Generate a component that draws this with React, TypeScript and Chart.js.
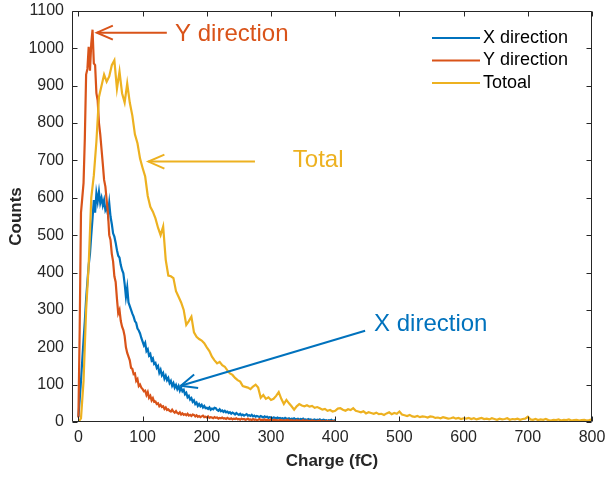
import React, { useEffect, useRef } from "react";
import { Chart, registerables } from "chart.js";

Chart.register(...registerables);

const FONT = '"Liberation Sans", Arial, Helvetica, sans-serif';

// bin width (fC) of each series
const STEP_XY = 2;
const STEP_TOTAL = 4;

// X direction counts, charge 0..400 fC, every 2 fC
const xDirection = [
  14, 60, 110, 165, 220, 270, 330, 375, 420, 450,
  500, 545, 594, 560, 612, 590, 616, 586, 600, 580,
  594, 567, 575, 555, 586, 550, 530, 505, 496, 480,
  460, 445, 440, 420, 407, 398, 370, 335, 360, 320,
  310, 300, 290, 282, 270, 265, 250, 245, 237, 225,
  215, 205, 212, 190, 195, 178, 182, 165, 170, 155,
  158, 145, 150, 132, 140, 125, 131, 116, 124, 112,
  118, 104, 110, 97, 104, 92, 99, 88, 96, 84,
  92, 82, 86, 74, 78, 66, 70, 60, 64, 54,
  58, 48, 52, 43, 48, 42, 46, 39, 43, 37,
  38, 35, 39, 33, 36, 34, 38, 37, 32, 30,
  34, 29, 31, 27, 30, 26, 28, 24, 26, 22,
  25, 23, 20, 24, 21, 19, 22, 18, 20, 17,
  19, 21, 17, 18, 16, 19, 15, 17, 14, 16,
  15, 13, 16, 14, 12, 15, 13, 14, 11, 13,
  12, 10, 12, 11, 9, 12, 10, 11, 9, 10,
  8, 11, 9, 8, 10, 7, 9, 8, 10, 7,
  8, 9, 6, 8, 7, 9, 6, 7, 5, 8,
  6, 7, 5, 6, 7, 4, 6, 5, 7, 4,
  5, 6, 4, 5, 3, 5, 4, 6, 3, 4,
  5,
];

// Y direction counts, charge 0..400 fC, every 2 fC
const yDirection = [
  12, 250, 560, 600, 640, 760, 930, 945, 1004, 940,
  1013, 1050, 960, 955, 880, 860, 800, 770, 730, 690,
  648, 630, 594, 560, 500, 487, 450, 430, 390, 375,
  330, 291, 300, 270, 255, 246, 230, 200, 185, 175,
  165, 145, 142, 128, 130, 110, 115, 96, 100, 92,
  88, 82, 84, 72, 80, 65, 70, 58, 64, 54,
  55, 48, 50, 42, 46, 40, 42, 35, 39, 32,
  34, 30, 28, 33, 28, 25, 29, 24, 22, 26,
  20, 23, 19, 21, 18, 22, 17, 19, 16, 20,
  19, 15, 18, 14, 16, 13, 15, 17, 13, 14,
  12, 15, 11, 13, 12, 10, 13, 11, 12, 9,
  11, 10, 12, 9, 10, 8, 11, 9, 8, 10,
  7, 9, 8, 10, 7, 8, 6, 9, 7, 8,
  6, 7, 9, 6, 7, 5, 8, 6, 7, 5,
  6, 8, 5, 6, 4, 7, 5, 6, 4, 5,
  7, 4, 5, 6, 4, 5, 3, 6, 4, 5,
  3, 5, 4, 6, 3, 4, 5, 3, 4, 2,
  5, 3, 4, 2, 3, 5, 2, 3, 4, 2,
  3, 2, 4, 2, 3, 1, 3, 2, 4, 1,
  2, 3, 1, 2, 3, 1, 2, 1, 2, 1,
  2,
];

// Total counts, charge 0..800 fC, every 4 fC
const total = [
  0, 10, 110, 300, 420, 600, 660, 750, 870, 900,
  930, 911, 925, 955, 968, 892, 938, 880, 855, 906,
  855, 820, 770, 746, 705, 680, 657, 605, 576, 563,
  545, 520, 500, 523, 434, 392, 390, 385, 350, 335,
  320, 300, 260, 270, 282, 240, 228, 222, 218, 211,
  200, 190, 175, 165, 157, 161, 152, 148, 138, 130,
  126, 118, 112, 108, 96, 94, 92, 88, 95, 100,
  92, 65, 72, 62, 66, 59, 62, 70, 80, 62,
  48, 59, 50, 42, 33, 42, 48, 44, 42, 45,
  41, 43, 38, 40, 37, 33, 35, 30, 32, 28,
  30, 36, 37, 33, 30, 34, 32, 37, 30, 28,
  26, 29, 23, 26, 24, 22, 25, 21, 22, 19,
  23, 26, 21, 24, 22, 28, 20, 18, 16, 19,
  15, 14, 16, 13, 15, 14, 12, 15, 14, 11,
  12, 10, 13, 11, 9, 10, 12, 9, 11, 8,
  10, 9, 11, 8, 10, 7, 9, 11, 8, 9,
  7, 10, 8, 6, 9, 7, 8, 10, 6, 8,
  7, 9, 6, 8, 9, 14, 7, 6, 8, 5,
  7, 6, 8, 5, 4, 6, 5, 7, 4, 6,
  5, 7, 4, 5, 6, 4, 5, 6, 4, 5,
  7,
];

const xTicks = [0, 100, 200, 300, 400, 500, 600, 700, 800];
const yTicks = [0, 100, 200, 300, 400, 500, 600, 700, 800, 900, 1000, 1100];

const seriesNames = ["X direction", "Y direction", "Totoal"];
const seriesColors = ["#0072BD", "#D95319", "#EDB120"];

// arrow annotations, in data coordinates
const noteLabels = ["Y direction", "Total", "X direction"];
const noteColors = ["#D95319", "#EDB120", "#0072BD"];
const noteTails = [[137.7, 1042], [275, 697], [446.6, 244]];
const noteTips = [[28.7, 1042], [109, 697], [159.5, 97]];
const noteTextAt = [[150.6, 1038], [334, 701], [460.5, 262]];

const AXIS_COLOR = "#262626";

const framePlugin = {
  id: "matlabFrame",
  afterDatasetsDraw(chart: any) {
    const { ctx, chartArea: a, scales } = chart;
    const sx = scales.x;
    const sy = scales.y;
    ctx.save();

    // annotations
    noteLabels.forEach((label, i) => {
      const tx = sx.getPixelForValue(noteTips[i][0]);
      const ty = sy.getPixelForValue(noteTips[i][1]);
      const fx = sx.getPixelForValue(noteTails[i][0]);
      const fy = sy.getPixelForValue(noteTails[i][1]);
      ctx.strokeStyle = noteColors[i];
      ctx.lineWidth = 2;
      ctx.lineCap = "butt";
      ctx.beginPath();
      ctx.moveTo(fx, fy);
      ctx.lineTo(tx, ty);
      ctx.stroke();
      const ang = Math.atan2(ty - fy, tx - fx);
      const L = 16;
      const W = 7;
      const bx = tx - L * Math.cos(ang);
      const by = ty - L * Math.sin(ang);
      const nx = -Math.sin(ang);
      const ny = Math.cos(ang);
      ctx.beginPath();
      ctx.moveTo(bx + W * nx, by + W * ny);
      ctx.lineTo(tx, ty);
      ctx.lineTo(bx - W * nx, by - W * ny);
      ctx.stroke();
      ctx.fillStyle = noteColors[i];
      ctx.font = `24px ${FONT}`;
      ctx.textAlign = "left";
      ctx.textBaseline = "middle";
      ctx.fillText(label, sx.getPixelForValue(noteTextAt[i][0]), sy.getPixelForValue(noteTextAt[i][1]));
    });

    // box
    ctx.strokeStyle = AXIS_COLOR;
    ctx.lineWidth = 1;
    const L0 = Math.round(a.left) + 0.5;
    const R0 = Math.round(a.right) - 0.5;
    const T0 = Math.round(a.top) + 0.5;
    const B0 = Math.round(a.bottom) - 0.5;
    ctx.beginPath();
    ctx.rect(L0, T0, R0 - L0, B0 - T0);
    ctx.stroke();

    // inward ticks on all four sides
    const tl = 5;
    ctx.beginPath();
    xTicks.forEach((v) => {
      const px = Math.round(sx.getPixelForValue(v)) + 0.5;
      ctx.moveTo(px, B0);
      ctx.lineTo(px, B0 - tl);
      ctx.moveTo(px, T0);
      ctx.lineTo(px, T0 + tl);
    });
    yTicks.forEach((v) => {
      const py = Math.round(sy.getPixelForValue(v)) + 0.5;
      ctx.moveTo(L0, py);
      ctx.lineTo(L0 + tl, py);
      ctx.moveTo(R0, py);
      ctx.lineTo(R0 - tl, py);
    });
    ctx.stroke();

    // legend (top right, inside the axes)
    ctx.font = `18px ${FONT}`;
    ctx.textAlign = "left";
    ctx.textBaseline = "middle";
    seriesNames.forEach((name, i) => {
      const yy = a.top + 27 + i * 22.5;
      ctx.strokeStyle = seriesColors[i];
      ctx.lineWidth = 2;
      ctx.beginPath();
      ctx.moveTo(a.right - 160, yy);
      ctx.lineTo(a.right - 112, yy);
      ctx.stroke();
      ctx.fillStyle = "#000000";
      ctx.fillText(name, a.right - 109, yy);
    });

    ctx.restore();
  },
};

export default function App() {
  const canvasRef = useRef<HTMLCanvasElement | null>(null);

  useEffect(() => {
    document.body.style.margin = "0";
    const canvas = canvasRef.current;
    if (!canvas) return;

    const toPoints = (vals: number[], step: number) =>
      vals.map((v, i) => ({ x: i * step, y: v }));

    const chart = new Chart(canvas, {
      type: "line",
      data: {
        datasets: [
          {
            label: seriesNames[0],
            data: toPoints(xDirection, STEP_XY),
            borderColor: seriesColors[0],
            backgroundColor: seriesColors[0],
            order: 3,
          },
          {
            label: seriesNames[1],
            data: toPoints(yDirection, STEP_XY),
            borderColor: seriesColors[1],
            backgroundColor: seriesColors[1],
            order: 2,
          },
          {
            label: seriesNames[2],
            data: toPoints(total, STEP_TOTAL),
            borderColor: seriesColors[2],
            backgroundColor: seriesColors[2],
            order: 1,
          },
        ],
      },
      options: {
        responsive: false,
        animation: false,
        devicePixelRatio: 1,
        layout: { padding: { left: 0, top: 11, right: 13, bottom: 0 } },
        plugins: {
          legend: { display: false },
          tooltip: { enabled: false },
        },
        elements: {
          point: { radius: 0 },
          line: { borderWidth: 2.2, tension: 0 },
        },
        scales: {
          x: {
            type: "linear",
            min: -10,
            max: 800,
            grid: { display: false, drawTicks: false },
            border: { display: false },
            afterFit: (s: any) => {
              s.height = 55;
              s.paddingLeft = 0;
              s.paddingRight = 0;
              s.paddingTop = 0;
              s.paddingBottom = 0;
            },
            afterBuildTicks: (s: any) => {
              s.ticks = xTicks.map((v) => ({ value: v }));
            },
            ticks: {
              padding: 6,
              color: AXIS_COLOR,
              font: { family: FONT, size: 16 },
              autoSkip: false,
              maxRotation: 0,
              callback: (v: any) => String(v),
            },
            title: {
              display: true,
              text: "Charge (fC)",
              color: AXIS_COLOR,
              font: { family: FONT, size: 17, weight: "bold" },
              padding: { top: 0, bottom: 5 },
            },
          },
          y: {
            type: "linear",
            min: 0,
            max: 1100,
            grid: { display: false, drawTicks: false },
            border: { display: false },
            afterFit: (s: any) => {
              s.width = 72;
              s.paddingLeft = 0;
              s.paddingRight = 0;
              s.paddingTop = 0;
              s.paddingBottom = 0;
            },
            afterBuildTicks: (s: any) => {
              s.ticks = yTicks.map((v) => ({ value: v }));
            },
            ticks: {
              padding: 8,
              color: AXIS_COLOR,
              font: { family: FONT, size: 16 },
              autoSkip: false,
              callback: (v: any) => String(v),
            },
            title: {
              display: true,
              text: "Counts",
              color: AXIS_COLOR,
              font: { family: FONT, size: 17, weight: "bold" },
              padding: { top: 6, bottom: 0 },
            },
          },
        },
      },
      plugins: [framePlugin],
    });

    return () => {
      chart.destroy();
    };
  }, []);

  return (
    <div style={{ width: 605, height: 477, background: "#ffffff" }}>
      <canvas ref={canvasRef} width={605} height={477} style={{ display: "block" }} />
    </div>
  );
}
